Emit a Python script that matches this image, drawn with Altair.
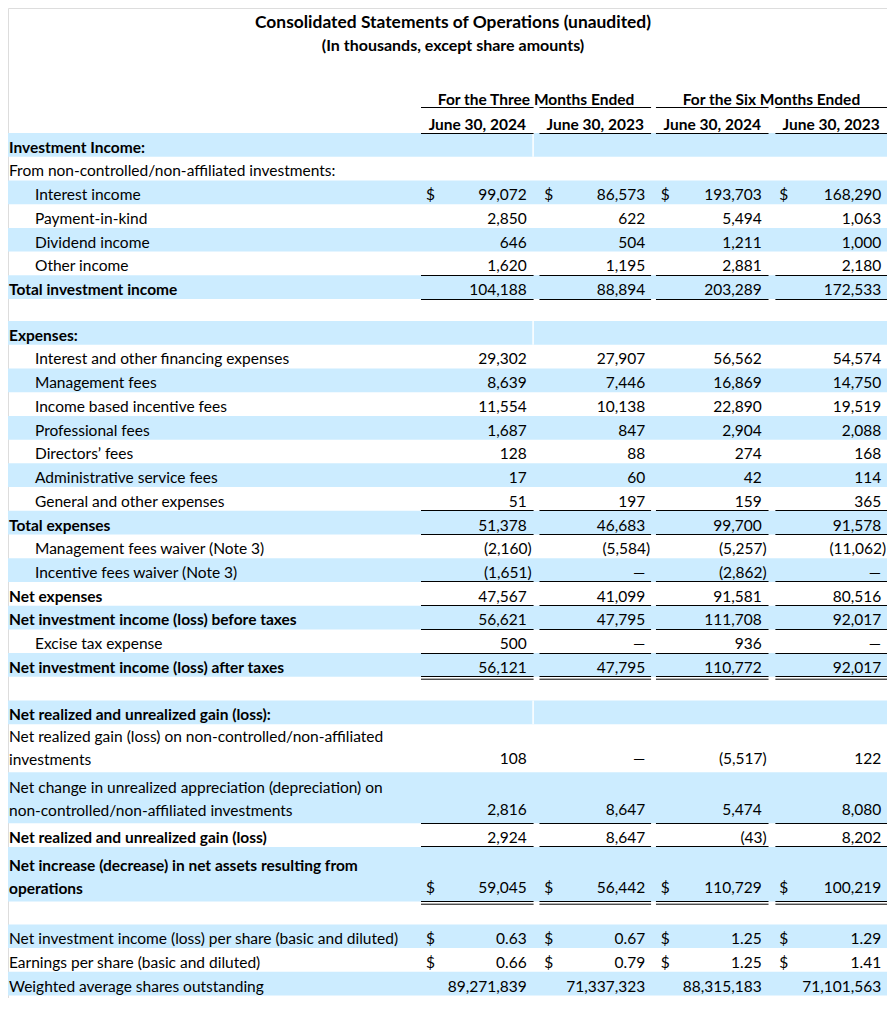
import altair as alt
import pandas as pd

# ---------------- data ----------------
TITLE_LINES = [
    "Consolidated Statements of Operations (unaudited)",
    "(In thousands, except share amounts)",
]
GROUP_LABELS = ["For the Three Months Ended", "For the Six Months Ended"]
PERIOD_LABELS = ["June 30, 2024", "June 30, 2023", "June 30, 2024", "June 30, 2023"]

LABELS = [
    "Investment Income:",
    "From non-controlled/non-affiliated investments:",
    "Interest income",
    "Payment-in-kind",
    "Dividend income",
    "Other income",
    "Total investment income",
    "",
    "Expenses:",
    "Interest and other financing expenses",
    "Management fees",
    "Income based incentive fees",
    "Professional fees",
    "Directors\u2019 fees",
    "Administrative service fees",
    "General and other expenses",
    "Total expenses",
    "Management fees waiver (Note 3)",
    "Incentive fees waiver (Note 3)",
    "Net expenses",
    "Net investment income (loss) before taxes",
    "Excise tax expense",
    "Net investment income (loss) after taxes",
    "",
    "Net realized and unrealized gain (loss):",
    "Net realized gain (loss) on non-controlled/non-affiliated|investments",
    "Net change in unrealized appreciation (depreciation) on|non-controlled/non-affiliated investments",
    "Net realized and unrealized gain (loss)",
    "Net increase (decrease) in net assets resulting from|operations",
    "",
    "Net investment income (loss) per share (basic and diluted)",
    "Earnings per share (basic and diluted)",
    "Weighted average shares outstanding",
]

KINDS = [
    "section", "plain", "item", "item", "item", "item", "total", "blank",
    "section", "item", "item", "item", "item", "item", "item", "item",
    "total", "item", "item", "total", "total", "item", "total", "blank",
    "section", "plain", "plain", "total", "total", "blank",
    "plain", "plain", "plain",
]

Q2_2024 = [None, None, "99,072", "2,850", "646", "1,620", "104,188", None,
           None, "29,302", "8,639", "11,554", "1,687", "128", "17", "51",
           "51,378", "(2,160)", "(1,651)", "47,567", "56,621", "500", "56,121", None,
           None, "108", "2,816", "2,924", "59,045", None,
           "0.63", "0.66", "89,271,839"]
Q2_2023 = [None, None, "86,573", "622", "504", "1,195", "88,894", None,
           None, "27,907", "7,446", "10,138", "847", "88", "60", "197",
           "46,683", "(5,584)", "\u2014", "41,099", "47,795", "\u2014", "47,795", None,
           None, "\u2014", "8,647", "8,647", "56,442", None,
           "0.67", "0.79", "71,337,323"]
H1_2024 = [None, None, "193,703", "5,494", "1,211", "2,881", "203,289", None,
           None, "56,562", "16,869", "22,890", "2,904", "274", "42", "159",
           "99,700", "(5,257)", "(2,862)", "91,581", "111,708", "936", "110,772", None,
           None, "(5,517)", "5,474", "(43)", "110,729", None,
           "1.25", "1.25", "88,315,183"]
H1_2023 = [None, None, "168,290", "1,063", "1,000", "2,180", "172,533", None,
           None, "54,574", "14,750", "19,519", "2,088", "168", "114", "365",
           "91,578", "(11,062)", "\u2014", "80,516", "92,017", "\u2014", "92,017", None,
           None, "122", "8,080", "8,202", "100,219", None,
           "1.29", "1.41", "71,101,563"]
COLUMNS = [Q2_2024, Q2_2023, H1_2024, H1_2023]

DOLLAR_ROWS = [2, 28, 30, 31]
SINGLE_RULE_BELOW = [5, 6, 15, 16, 18, 19, 20, 21, 26, 27]
DOUBLE_RULE_BELOW = [22, 28]

# ---------------- layout ----------------
FONT = "Lato"
FS = 15.5
TITLE_FS = [17.4, 16.0]
BLUE = "#CCECFF"
VIEW_X0, VIEW_X1 = 8, 887
VIEW_Y0, VIEW_Y1 = 8, 998
TABLE_TOP = 133.0
HEAD_BASE = [105, 130]
HEAD_RULE = 107.5
ROW_H = 23.72
SPECIAL_H = {7: 22.0, 23: 23.6, 29: 23.0, 25: 48.0, 26: 51.0, 28: 54.5}


def squeeze(v):
    # fit the numeric block into the visible page width
    return 421 + (v - 421) * 0.979


COL_LEFT = [squeeze(v) for v in (421, 542, 661, 783)]
COL_RIGHT = [squeeze(v) for v in (536, 656, 776)] + [VIEW_X1]
NUM_RIGHT = [squeeze(v) for v in (529, 650, 769, 891)]
DOLLAR_X = [squeeze(v) for v in (426, 547, 666, 787)]
SEP_X = squeeze(535.5)
INDENT_X = 35
LEFT_X = 9

tops, bottoms = [], []
y = TABLE_TOP
for i in range(len(LABELS)):
    h = SPECIAL_H.get(i, ROW_H)
    tops.append(y)
    bottoms.append(y + h)
    y += h

bands, seps, rules = [], [], []
lab_norm, lab_bold, dollars, values = [], [], [], []

for i, (lab, kind) in enumerate(zip(LABELS, KINDS)):
    top, bot = tops[i], bottoms[i]
    if kind != "blank" and i % 2 == 0:
        bands.append({"x": VIEW_X0, "x2": VIEW_X1, "y": top, "y2": bot})
    if kind == "section":
        seps.append({"x": SEP_X, "y": top, "y2": bot})
    lines = lab.split("|") if lab else []
    n = len(lines)
    last_base = bot - (4 if n <= 1 else 7)
    for k, line in enumerate(lines):
        rec = {"x": INDENT_X if kind == "item" else LEFT_X,
               "y": last_base - 23.5 * (n - 1 - k), "t": line}
        (lab_bold if kind in ("section", "total") else lab_norm).append(rec)
    vbase = bot - (4 if n <= 1 else 8)
    for c, col in enumerate(COLUMNS):
        v = col[i]
        if v is None:
            continue
        xr = NUM_RIGHT[c] + (5 if v.startswith("(") else 0)
        values.append({"x": xr, "y": vbase, "t": v})
        if i in DOLLAR_ROWS:
            dollars.append({"x": DOLLAR_X[c], "y": vbase, "t": "$"})
    if i in SINGLE_RULE_BELOW or i in DOUBLE_RULE_BELOW:
        yy = int(bot) + 0.5
        for c in range(4):
            rules.append({"x": COL_LEFT[c], "x2": COL_RIGHT[c], "y": yy})
            if i in DOUBLE_RULE_BELOW:
                rules.append({"x": COL_LEFT[c], "x2": COL_RIGHT[c], "y": yy + 2.7})

# header texts and rules
titles = [{"x": 453, "y": 28, "t": TITLE_LINES[0]}]
subtitles = [{"x": 453, "y": 51, "t": TITLE_LINES[1]}]
heads = []
heads.append({"x": (COL_LEFT[0] + COL_RIGHT[1]) / 2, "y": HEAD_BASE[0], "t": GROUP_LABELS[0]})
heads.append({"x": (COL_LEFT[2] + COL_RIGHT[3]) / 2, "y": HEAD_BASE[0], "t": GROUP_LABELS[1]})
for c in range(4):
    heads.append({"x": (COL_LEFT[c] + COL_RIGHT[c]) / 2, "y": HEAD_BASE[1], "t": PERIOD_LABELS[c]})
    rules.append({"x": COL_LEFT[c], "x2": COL_RIGHT[c], "y": HEAD_RULE})
    rules.append({"x": COL_LEFT[c], "x2": COL_RIGHT[c], "y": TABLE_TOP + 0.5})

# ---------------- chart ----------------
X = alt.X("x:Q", scale=alt.Scale(domain=[VIEW_X0, VIEW_X1], nice=False, zero=False), axis=None)
Y = alt.Y("y:Q", scale=alt.Scale(domain=[VIEW_Y0, VIEW_Y1], nice=False, zero=False, reverse=True), axis=None)

band_layer = alt.Chart(pd.DataFrame(bands)).mark_rect(color=BLUE).encode(
    x=X, x2="x2:Q", y=Y, y2="y2:Q")
sep_layer = alt.Chart(pd.DataFrame(seps)).mark_rule(color="white", strokeWidth=1.5).encode(
    x=X, y=Y, y2="y2:Q")
rule_layer = alt.Chart(pd.DataFrame(rules)).mark_rule(color="black", strokeWidth=1).encode(
    x=X, x2="x2:Q", y=Y)


def text_layer(rows, align, weight, size=FS):
    return alt.Chart(pd.DataFrame(rows)).mark_text(
        align=align, baseline="alphabetic", font=FONT, fontSize=size,
        fontWeight=weight, color="black").encode(x=X, y=Y, text="t:N")


chart = alt.layer(
    band_layer, sep_layer, rule_layer,
    text_layer(lab_norm, "left", "normal"),
    text_layer(lab_bold, "left", "bold"),
    text_layer(dollars, "left", "normal"),
    text_layer(values, "right", "normal"),
    text_layer(heads, "center", "bold"),
    text_layer(titles, "center", "bold", TITLE_FS[0]),
    text_layer(subtitles, "center", "bold", TITLE_FS[1]),
).properties(
    width=VIEW_X1 - VIEW_X0, height=VIEW_Y1 - VIEW_Y0,
    autosize=alt.AutoSizeParams(type="none"),
    padding=0,
).configure_view(stroke=None).configure(background="white")

chart.save("out.html", embed_options={"renderer": "svg", "actions": False})
